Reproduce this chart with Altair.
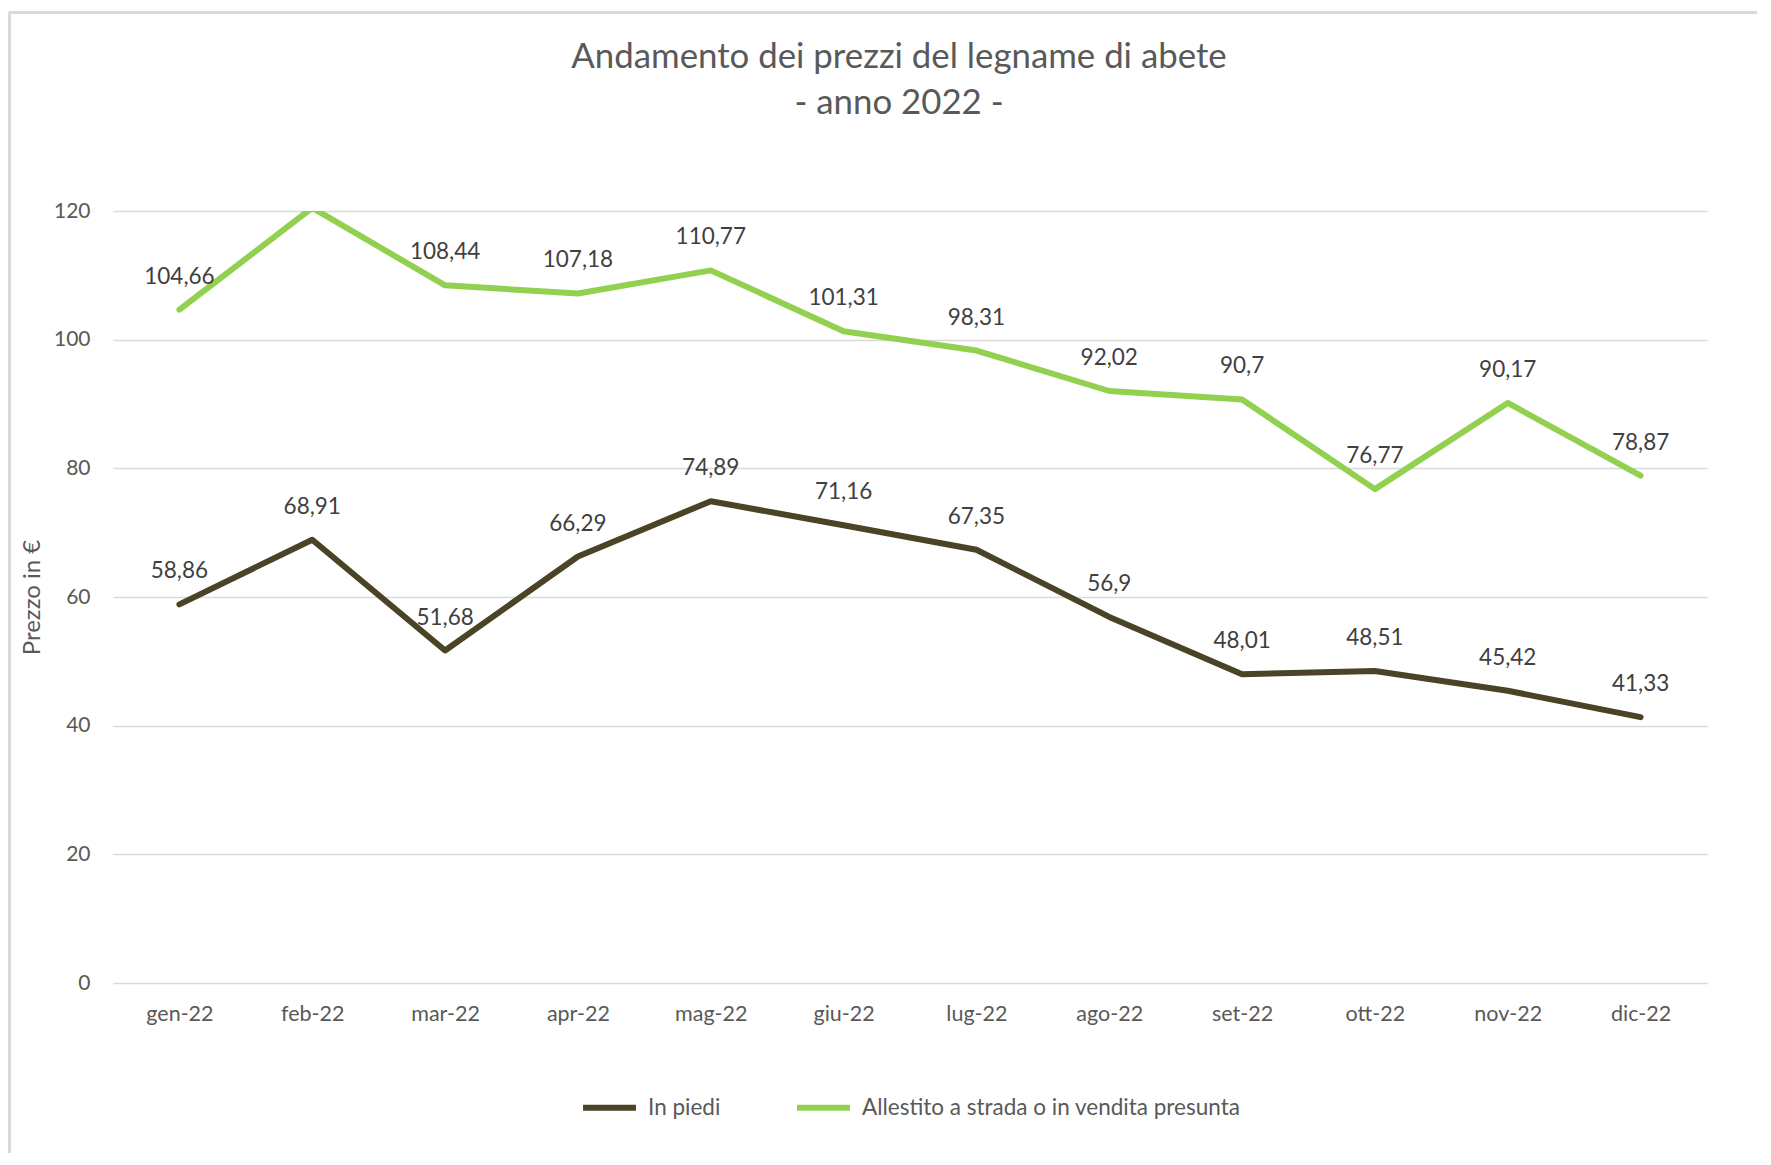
import altair as alt
import pandas as pd

months = ["gen-22", "feb-22", "mar-22", "apr-22", "mag-22", "giu-22",
          "lug-22", "ago-22", "set-22", "ott-22", "nov-22", "dic-22"]
in_piedi = [58.86, 68.91, 51.68, 66.29, 74.89, 71.16, 67.35, 56.9, 48.01, 48.51, 45.42, 41.33]
allestito = [104.66, 120.5, 108.44, 107.18, 110.77, 101.31, 98.31, 92.02, 90.7, 76.77, 90.17, 78.87]
series_names = ["In piedi", "Allestito a strada o in vendita presunta"]
series_colors = ["#4a4326", "#92d050"]
y_ticks = [0, 20, 40, 60, 80, 100, 120]

rows = []
for m, v in zip(months, in_piedi):
    rows.append({"mese": m, "serie": series_names[0], "valore": v})
for m, v in zip(months, allestito):
    rows.append({"mese": m, "serie": series_names[1], "valore": v})
df = pd.DataFrame(rows)

FONT = "Lato"
TXT = "#595959"

x_enc = alt.X("mese:N", sort=months, title=None,
              scale=alt.Scale(type="point", padding=0.5),
              axis=alt.Axis(labelAngle=0, ticks=False, domain=False, grid=False,
                            labelFont=FONT, labelFontSize=21.5, labelColor=TXT,
                            labelPadding=20))
y_enc = alt.Y("valore:Q", title="Prezzo in €",
              scale=alt.Scale(domain=[0, 120], nice=False),
              axis=alt.Axis(values=y_ticks, ticks=False, domain=False,
                            gridColor="#d9d9d9", gridWidth=1.6,
                            labelFont=FONT, labelFontSize=21, labelColor=TXT,
                            labelPadding=23,
                            titleFont=FONT, titleFontSize=24, titleColor=TXT,
                            titleFontWeight="normal", titleX=-81, titleBaseline="middle",
                            titleAngle=-90))
color_enc = alt.Color("serie:N", title=None,
                      scale=alt.Scale(domain=series_names, range=series_colors),
                      legend=alt.Legend(orient="none", direction="horizontal",
                                        legendX=467, legendY=867,
                                        symbolType="stroke", symbolSize=2800,
                                        symbolStrokeWidth=6, labelOffset=9,
                                        columnPadding=64, padding=0,
                                        labelFont=FONT, labelFontSize=22.5,
                                        labelColor=TXT, labelLimit=600))

base = alt.Chart(df)

lines = base.mark_line(strokeWidth=6, clip=True, strokeCap="round",
                       strokeJoin="round").encode(x=x_enc, y=y_enc, color=color_enc)

labels = base.transform_filter("datum.valore <= 120").transform_calculate(
    lab="replace(toString(datum.valore), '.', ',')"
).mark_text(font=FONT, fontSize=22.5, color="#404040", dy=-33,
            baseline="middle", align="center").encode(
    x=alt.X("mese:N", sort=months), y="valore:Q", text="lab:N")

frame_left = alt.Chart(df).mark_rule(color="#d9d9d9", strokeWidth=2).encode(
    x=alt.value(-103.5), y=alt.value(-198.5), y2=alt.value(1000))
frame_top = alt.Chart(df).mark_rule(color="#d9d9d9", strokeWidth=2).encode(
    x=alt.value(-103.5), x2=alt.value(1700), y=alt.value(-198.5))

chart = alt.layer(frame_left, frame_top, lines, labels).properties(
    width=1594, height=772,
    background="white",
    title=alt.TitleParams(
        text=["Andamento dei prezzi del legname di abete", "- anno 2022 -"],
        font=FONT, fontSize=34.8, fontWeight="normal", color=TXT,
        lineHeight=46, anchor="middle", frame="group", baseline="bottom",
        offset=0, dy=144, dx=-11),
    padding={"left": 105, "top": 203, "right": 50, "bottom": 170},
    autosize=alt.AutoSizeParams(type="none"),
).configure_view(stroke="transparent", strokeWidth=0)

chart.save("out.html", embed_options={"renderer": "svg", "actions": False})
